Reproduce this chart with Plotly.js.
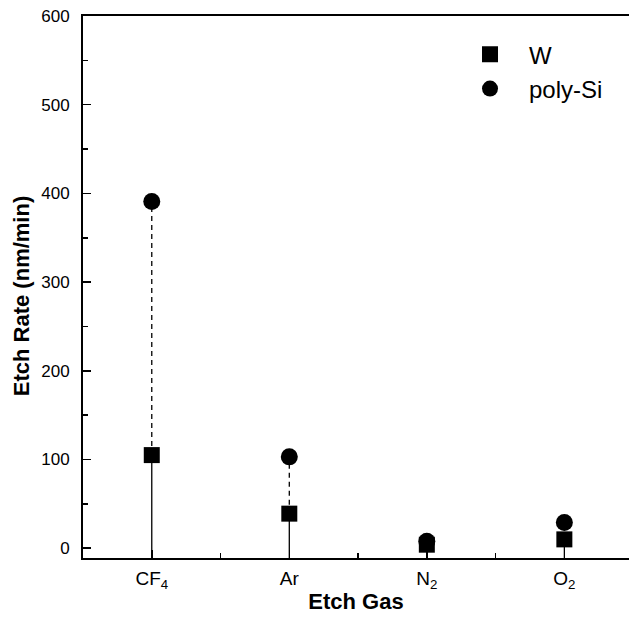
<!DOCTYPE html>
<html>
<head>
<meta charset="utf-8">
<script src="https://cdn.plot.ly/plotly-3.0.1.min.js"></script>
<style>html,body{margin:0;padding:0;background:#fff;}#chart{width:629px;height:617px;}</style>
</head>
<body>
<div id="chart"></div>
<script>
// Data
const gases = ['CF<sub>4</sub>', 'Ar', 'N<sub>2</sub>', 'O<sub>2</sub>'];
const wRate = [105, 39, 4, 10];
const polySiRate = [391, 103, 8, 29];
const seriesNames = ['W', 'poly-Si'];
const yTicks = [0, 100, 200, 300, 400, 500, 600];
const xTitle = 'Etch Gas';
const yTitle = 'Etch Rate (nm/min)';

const yMin = -11, yMax = 600;
const idx = gases.map((g, i) => i);

// drop lines (axis -> W), dashed connectors (W -> poly-Si)
const dropX = [], dropY = [], dashX = [], dashY = [];
idx.forEach(i => {
  dropX.push(i, i, null); dropY.push(yMin, wRate[i], null);
  dashX.push(i, i, null); dashY.push(wRate[i], polySiRate[i], null);
});

const font = 'Liberation Sans, Arial, Helvetica, sans-serif';
const traces = [
  {x: dropX, y: dropY, mode: 'lines', line: {color: '#000', width: 1.3}, showlegend: false, hoverinfo: 'skip'},
  {x: dashX, y: dashY, mode: 'lines', line: {color: '#000', width: 1.3, dash: '5px,4px'}, showlegend: false, hoverinfo: 'skip'},
  {x: idx, y: wRate, name: seriesNames[0], mode: 'markers', marker: {symbol: 'square', size: 16, color: '#000'}},
  {x: idx, y: polySiRate, name: seriesNames[1], mode: 'markers', marker: {symbol: 'circle', size: 17, color: '#000'}}
];

const layout = {
  width: 629, height: 617,
  margin: {l: 83, r: 0, t: 16, b: 59},
  paper_bgcolor: '#fff', plot_bgcolor: '#fff',
  font: {family: font, color: '#000'},
  showlegend: true,
  legend: {x: 0.674, y: 0.97, xanchor: 'left', yanchor: 'top', bgcolor: 'rgba(0,0,0,0)',
           font: {size: 24, family: font, color: '#000'}, tracegroupgap: 0, itemwidth: 68},
  xaxis: {
    range: [-0.5, 3.47], showgrid: false, zeroline: false,
    tickmode: 'array', tickvals: idx, ticktext: gases,
    ticks: 'inside', ticklen: 8, tickwidth: 1.5, tickcolor: '#000',
    minor: {tickmode: 'linear', tick0: 0.5, dtick: 1, ticks: 'inside', ticklen: 5, tickwidth: 1.5, tickcolor: '#000'},
    showline: true, linecolor: '#000', linewidth: 2, mirror: true,
    tickfont: {size: 19, family: font, color: '#000'},
    ticklabelstandoff: 2,
    title: {text: '<b>' + xTitle + '</b>', font: {size: 22, family: font, color: '#000'}, standoff: 3}
  },
  yaxis: {
    range: [yMin, yMax], showgrid: false, zeroline: false,
    tickmode: 'array', tickvals: yTicks, ticktext: yTicks.map(String),
    ticks: 'inside', ticklen: 8, tickwidth: 1.5, tickcolor: '#000',
    minor: {tickmode: 'linear', tick0: 50, dtick: 100, ticks: 'inside', ticklen: 5, tickwidth: 1.5, tickcolor: '#000'},
    showline: true, linecolor: '#000', linewidth: 2,
    tickfont: {size: 17, family: font, color: '#000'},
    ticklabelstandoff: 8
  },
  annotations: [{
    text: '<b>' + yTitle + '</b>', textangle: -90, showarrow: false,
    xref: 'paper', yref: 'paper', x: 0, y: 0.483, xanchor: 'center', yanchor: 'middle', xshift: -62,
    font: {size: 22, family: font, color: '#000'}
  }]
};

Plotly.newPlot('chart', traces, layout, {displayModeBar: false, staticPlot: true});
</script>
</body>
</html>
